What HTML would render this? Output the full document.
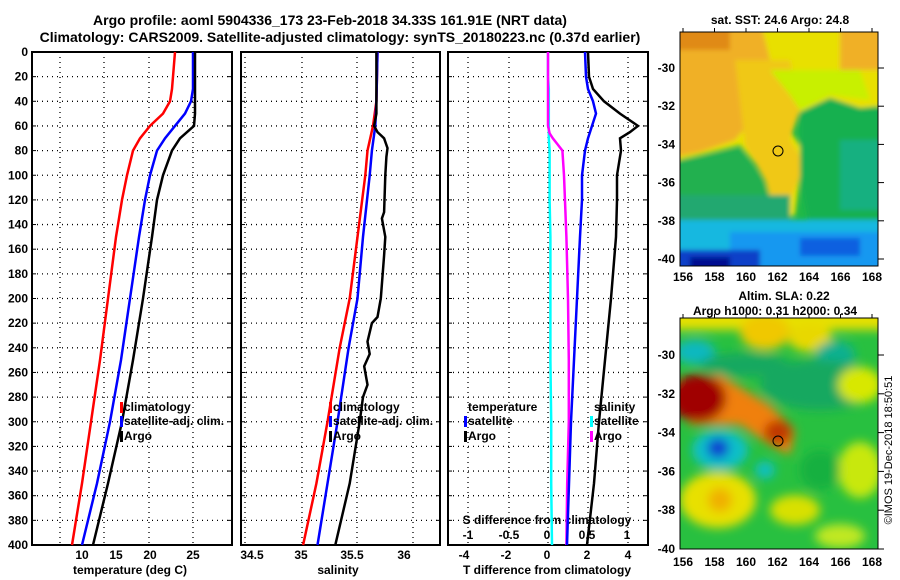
<!DOCTYPE html>
<html><head><meta charset="utf-8"><style>
body{margin:0;background:#fff;}
svg{display:block;font-family:"Liberation Sans",sans-serif;font-weight:bold;}
</style></head><body>
<svg id="fig" width="900" height="580" viewBox="0 0 900 580">
<defs>
<filter id="bl" x="-30%" y="-30%" width="160%" height="160%"><feGaussianBlur stdDeviation="5"/></filter>
<filter id="bl2" x="-20%" y="-20%" width="140%" height="140%"><feGaussianBlur stdDeviation="2.5"/></filter>
<clipPath id="c1"><rect x="680" y="32" width="198" height="234"/></clipPath>
<clipPath id="c2"><rect x="680" y="318" width="198" height="231"/></clipPath>
</defs>
<text x="330" y="25" text-anchor="middle" font-size="14">Argo profile: aoml 5904336_173 23-Feb-2018 34.33S 161.91E (NRT data)</text>
<text x="340" y="42" text-anchor="middle" font-size="14">Climatology: CARS2009. Satellite-adjusted climatology: synTS_20180223.nc (0.37d earlier)</text>

<g id="maps">
<g clip-path="url(#c1)">
<rect x="680" y="32" width="198" height="234" fill="#20b848"/>
<g filter="url(#bl2)">
<polygon points="670,20 890,20 890,110 860,108 830,98 800,112 790,130 812,165 800,175 795,215 775,220 765,175 740,145 700,155 670,162" fill="#e8e000"/>
<polygon points="670,20 760,20 770,60 760,110 735,140 700,152 670,158" fill="#f0b028"/>
<rect x="670" y="20" width="60" height="30" fill="#e08a18"/>
<polygon points="735,60 790,60 800,110 790,140 805,165 790,200 775,215 765,180 745,145" fill="#f0c818"/>
<polygon points="770,70 860,70 870,100 830,95 800,110 790,95" fill="#c8f000"/>
<rect x="840" y="25" width="50" height="45" fill="#f0b028"/>
<polygon points="800,112 830,98 860,108 890,105 890,230 810,230 800,180" fill="#18b050"/>
<rect x="840" y="140" width="50" height="70" fill="#18b080"/>
<polygon points="670,162 700,157 740,148 762,178 780,225 890,225 890,270 670,270" fill="#20b050"/>
<rect x="670" y="195" width="120" height="30" fill="#20a870"/>
<rect x="670" y="220" width="230" height="50" fill="#18b8e0"/>
<rect x="730" y="232" width="160" height="38" fill="#1898f0"/>
<rect x="670" y="250" width="90" height="20" fill="#1040c8"/>
<rect x="690" y="257" width="40" height="12" fill="#001090"/>
<rect x="800" y="238" width="60" height="18" fill="#1060e0"/>
</g>
<circle cx="778" cy="151" r="5" fill="none" stroke="#000" stroke-width="1"/>
</g>
<rect x="680" y="32" width="198" height="234" fill="none" stroke="#000"/>
<text x="780" y="24" text-anchor="middle" font-size="12">sat. SST: 24.6 Argo: 24.8</text>

<g clip-path="url(#c2)">
<rect x="680" y="318" width="198" height="231" fill="#28c040"/>
<g filter="url(#bl)">
<rect x="670" y="310" width="230" height="20" fill="#e8e000"/>
<ellipse cx="765" cy="332" rx="25" ry="18" fill="#f0c800"/>
<ellipse cx="810" cy="338" rx="22" ry="14" fill="#e8d800"/>
<ellipse cx="695" cy="352" rx="20" ry="12" fill="#10b8c0"/>
<ellipse cx="745" cy="365" rx="45" ry="12" fill="#18a860"/>
<ellipse cx="835" cy="355" rx="20" ry="14" fill="#10b090"/>
<ellipse cx="820" cy="385" rx="60" ry="25" fill="#18a860"/>
<ellipse cx="860" cy="385" rx="22" ry="18" fill="#d8e800"/>
<polygon points="675,380 720,375 770,405 795,430 790,455 770,445 740,425 690,425" fill="#f08010"/>
<ellipse cx="698" cy="398" rx="28" ry="24" fill="#a00000"/>
<ellipse cx="778" cy="432" rx="14" ry="12" fill="#c03800"/>
<ellipse cx="720" cy="450" rx="28" ry="20" fill="#10c0c8"/>
<ellipse cx="718" cy="448" rx="11" ry="10" fill="#1040d0"/>
<ellipse cx="765" cy="470" rx="10" ry="9" fill="#10c0c0"/>
<ellipse cx="718" cy="500" rx="38" ry="28" fill="#e8e000"/>
<ellipse cx="720" cy="500" rx="12" ry="12" fill="#f0b000"/>
<ellipse cx="860" cy="470" rx="22" ry="28" fill="#c8e810"/>
<ellipse cx="795" cy="510" rx="25" ry="15" fill="#d8e000"/>
<ellipse cx="840" cy="536" rx="25" ry="12" fill="#c0e820"/>
<ellipse cx="820" cy="470" rx="20" ry="20" fill="#18b040"/>
</g>
<circle cx="778" cy="441" r="5" fill="none" stroke="#000" stroke-width="1"/>
</g>
<rect x="680" y="318" width="198" height="231" fill="none" stroke="#000"/>
<text x="784" y="300" text-anchor="middle" font-size="12">Altim. SLA: 0.22</text>
<text x="775" y="315" text-anchor="middle" font-size="12">Argo h1000: 0.31 h2000: 0.34</text>
<text transform="translate(892,450) rotate(-90)" text-anchor="middle" font-size="11" font-weight="normal">©IMOS 19-Dec-2018 18:50:51</text>
</g>
<g id="dyn"></g>
</svg>
<script>
// ---- data ----
const depths=[0,10,20,30,40,50,60,70,80,100,120,150,200,250,300,350,400];
const tClim=[22.92,22.81,22.70,22.58,22.36,21.57,20.11,18.99,18.20,17.53,16.97,16.29,15.39,14.49,13.48,12.47,11.35];
const tSat=[24.94,24.94,24.94,24.94,24.72,24.04,22.92,21.80,20.90,20.11,19.55,18.88,17.87,16.85,15.62,14.16,12.47];
const tArgo=[25.17,25.17,25.17,25.17,25.17,25.17,25.06,23.48,22.58,21.57,20.90,20.34,19.33,18.20,16.97,15.39,13.71];
const sDepths=[0,40,60,80,100,150,200,240,300,350,400];
const sClim=[35.68,35.67,35.64,35.59,35.57,35.50,35.43,35.34,35.23,35.13,35.01];
const sSat=[35.68,35.67,35.66,35.63,35.61,35.55,35.50,35.42,35.32,35.23,35.14];
const aDepths=[0,50,60,65,70,78,85,100,130,135,150,165,200,215,220,235,245,255,270,280,300,350,400];
const sArgo=[35.67,35.67,35.65,35.68,35.74,35.77,35.76,35.75,35.74,35.72,35.75,35.74,35.71,35.68,35.63,35.59,35.61,35.56,35.59,35.55,35.52,35.43,35.30];
const dDepths=[0,20,30,40,50,60,65,70,80,100,120,150,200,250,300,350,400];
const dTSat=[1.85,1.9,2.0,2.25,2.4,2.2,2.1,2.0,1.85,1.7,1.7,1.6,1.45,1.3,1.15,1.05,0.95];
const dTArgo=[2.0,2.05,2.25,2.8,3.6,4.5,4.1,3.6,3.65,3.45,3.45,3.4,3.15,2.85,2.55,2.3,1.95];
const dSSat=[0.0,0.0,0.01,0.01,0.01,0.01,0.01,0.01,0.02,0.02,0.02,0.03,0.03,0.03,0.04,0.04,0.05];
const mDepths=[0,60,66,70,75,80,100,150,200,250,300,350,400];
const dSArgo=[0.0,0.0,0.02,0.06,0.12,0.18,0.20,0.23,0.25,0.26,0.26,0.24,0.23];
const depthTicks=[0,20,40,60,80,100,120,140,160,180,200,220,240,260,280,300,320,340,360,380,400];
const tTicks=["10","15","20","25"];
const sTicks=["34.5","35","35.5","36"];
const dtTicks=["-4","-2","0","2","4"];
const dsTicks=["-1","-0.5","0","0.5","1"];
// ---- axes ----
const Y=d=>52+d*1.2325;
const xT=t=>149+(t-20)*8.9;
const xS=s=>302+(s-35)*111;
const xDT=t=>548+t*20;
const xDS=s=>548+s*80;
const NS='http://www.w3.org/2000/svg';
const g=document.getElementById('dyn');
function el(tag,at,parent){const e=document.createElementNS(NS,tag);for(const k in at)e.setAttribute(k,at[k]);(parent||g).appendChild(e);return e;}
function txt(x,y,s,anchor,size){const t=el('text',{x:x,y:y,'text-anchor':anchor||'middle','font-size':size||12});t.textContent=s;return t;}
const panels=[[32,232],[241,440],[448,648]];
const gridX=[[60,104,149,193],[245,302,357,413],[468,509,548,588,628]];
panels.forEach((p,i)=>{
  const gr=el('g',{});
  
  
  depthTicks.forEach(d=>{if(d>0&&d<400)el('line',{x1:p[0],x2:p[1],y1:Y(d),y2:Y(d),stroke:'#000','stroke-dasharray':'1,4','stroke-width':1.3},gr);
    el('line',{x1:p[1],x2:p[1]-4,y1:Y(d),y2:Y(d),stroke:'#000'},gr);el('line',{x1:p[0],x2:p[0]+4,y1:Y(d),y2:Y(d),stroke:'#000'},gr);});
  gridX[i].forEach(x=>el('line',{x1:x,x2:x,y1:52,y2:545,stroke:'#000','stroke-dasharray':'1,4','stroke-width':1.3},gr));
  const fr=el('rect',{x:p[0],y:52,width:p[1]-p[0],height:493,fill:'none',stroke:'#000','stroke-width':2});
  
  
});
depthTicks.forEach(d=>{const t=txt(28,Y(d)+4,String(d),'end');
  
  });
[82,116,150,193].forEach((x,i)=>{const t=txt(x,559,tTicks[i]);
  
  });
[252,301,352,404].forEach((x,i)=>{const t=txt(x,559,sTicks[i]);
  
  });
[464,506,547,587,628].forEach((x,i)=>{const t=txt(x,559,dtTicks[i]);
  
  });
[468,509,547,587,627].forEach((x,i)=>{const t=txt(x,539,dsTicks[i]);
  
  });
let t;
t=txt(130,574,'temperature (deg C)');
t=txt(338,574,'salinity');
t=txt(547,574,'T difference from climatology');
t=txt(547,524,'S difference from climatology');
function line(ds,vs,fx,col,name,w){
  const pts=ds.map((d,i)=>fx(vs[i]).toFixed(1)+','+Y(d).toFixed(1)).join(' ');
  const l=el('polyline',{points:pts,fill:'none',stroke:col,'stroke-width':w||2.5});
  
  
}
line(depths,tClim,xT,'#f00','temp-climatology-line');
line(depths,tSat,xT,'#00f','temp-satellite-line');
line(depths,tArgo,xT,'#000','temp-argo-line');
line(sDepths,sClim,xS,'#f00','sal-climatology-line');
line(sDepths,sSat,xS,'#00f','sal-satellite-line');
line(aDepths,sArgo,xS,'#000','sal-argo-line');
line(dDepths,dSSat,xDS,'#0ff','s-diff-satellite-line');
line(mDepths,dSArgo,xDS,'#f0f','s-diff-argo-line');
line(dDepths,dTSat,xDT,'#00f','t-diff-satellite-line');
line(dDepths,dTArgo,xDT,'#000','t-diff-argo-line');
function legend(x,y,col,label,name){
  if(col){const m=el('rect',{x:x-4,y:y-9,width:3,height:11,fill:col});
    
    }
  const tt=txt(x,y,label,'start');
  
  
}
legend(124,411,'#f00','climatology','legend-climatology');
legend(124,425,'#00f','satellite-adj. clim.','legend-satellite');
legend(124,440,'#000','Argo','legend-argo');
legend(333,411,'#f00','climatology','legend2-climatology');
legend(333,425,'#00f','satellite-adj. clim.','legend2-satellite');
legend(333,440,'#000','Argo','legend2-argo');
legend(468,411,null,'temperature','legend-temperature');
legend(468,425,'#00f','satellite','legend-t-satellite');
legend(468,440,'#000','Argo','legend-t-argo');
legend(594,411,null,'salinity','legend-salinity');
legend(594,425,'#0ff','satellite','legend-s-satellite');
legend(594,440,'#f0f','Argo','legend-s-argo');
// map ticks
const latT=[-30,-32,-34,-36,-38,-40];
const lonT=[156,158,160,162,164,166,168];
[[32,68,38.2,281],[318,355,38.8,566]].forEach(m=>{
  latT.forEach((la,i)=>{const yy=m[1]+i*m[2];
    const tt=txt(675,yy+4,String(la),'end');
    
    
    el('line',{x1:878,x2:884,y1:yy,y2:yy,stroke:'#000'});});
  lonT.forEach((lo,i)=>{const xx=683+i*31.5;
    const tt=txt(xx,m[3],String(lo));
    
    
    el('line',{x1:xx,x2:xx,y1:m[0]-4,y2:m[0],stroke:'#000'});});
});
</script>
</body></html>
